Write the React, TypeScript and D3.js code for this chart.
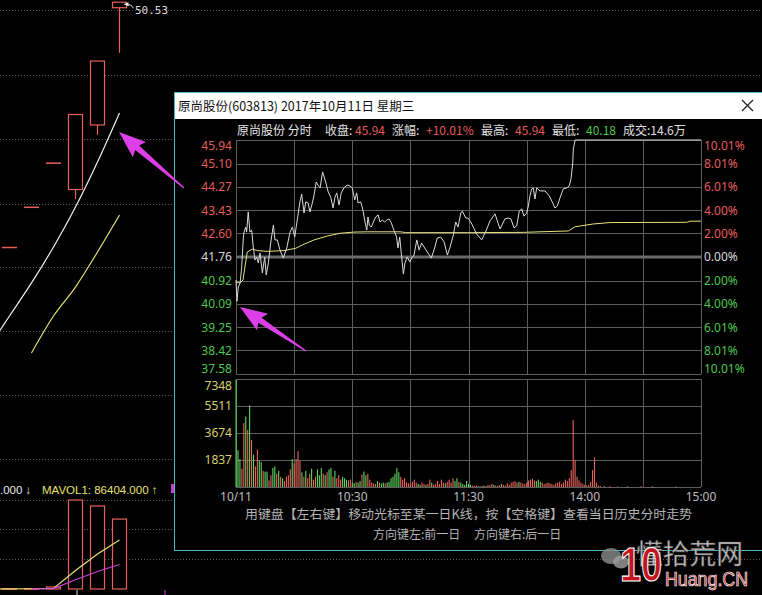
import React from "react";
import * as d3 from "d3";

const W = 762;
const H = 595;

// ---- daily K-line panel (behind the popup) ----
const dayIndex = [0, 1, 2, 3, 4, 5];
const dayOpen = [31.37, 34.51, 37.96, 35.9, 40.94, 50.1];
const dayHigh = [31.37, 34.51, 37.96, 41.76, 45.94, 50.53];
const dayLow = [31.37, 34.51, 37.96, 35.15, 40.18, 46.58];
const dayClose = [31.37, 34.51, 37.96, 41.76, 45.94, 50.53];
const ma5Index = [-1, 0, 1, 2, 3, 4, 5];
const ma5Values = [23.44, 26.02, 28.6, 31.41, 34.53, 38.05, 41.88];
const ma10Index = [1, 2, 3, 4, 5];
const ma10Values = [23.13, 26.02, 28.28, 31.02, 33.91];
const dayVolIndex = [-1, 0, 1, 2, 3, 4, 5];
const dayVolume = [300, 400, 500, 3500, 156500, 146000, 123000];
const mavol1Values = [300, 350, 400, 1100, 32400, 61500, 86404];
const mavol2Index = [1, 2, 3, 4, 5];
const mavol2Values = [350, 700, 16300, 30800, 43100];
const highLabel = "50.53";

// ---- intraday (分时) data, minutes 0..240 from 9:30 ----
const priceMinutes = [
  0, 0.5, 1.2, 2.1, 2.9, 3.8, 4.1, 5.0, 5.5, 6.3,
  7.2, 8.1, 8.9, 9.8, 10.7, 11.5, 12.4, 13.6, 14.8, 15.6,
  16.7, 17.9, 19.3, 20.1, 21.3, 22.7, 24.4, 26.2, 27.9, 29.1,
  30.3, 31.6, 32.9, 33.9, 35.1, 36.0, 37.2, 38.2, 39.4, 40.3,
  41.4, 42.3, 43.4, 44.7, 46.3, 47.6, 48.9, 50.1, 51.1, 52.0,
  53.2, 54.3, 55.7, 57.4, 58.8, 60.0, 61.3, 62.3, 63.0, 64.4,
  65.5, 66.6, 67.5, 68.1, 68.8, 69.8, 70.9, 72.1, 73.4, 74.3,
  75.5, 76.7, 77.8, 79.0, 80.2, 81.5, 82.9, 83.6, 84.5, 85.5,
  86.4, 87.2, 88.4, 89.7, 90.7, 91.9, 93.3, 94.5, 95.8, 97.4,
  99.1, 100.8, 102.2, 103.9, 105.7, 107.4, 109.1, 110.5, 112.2, 113.4,
  114.6, 116.0, 116.8, 118.6, 119.9, 121.7, 124.2, 126.8, 129.0, 131.1,
  133.7, 135.4, 136.3, 138.8, 140.5, 141.9, 143.5, 144.9, 146.2, 147.5,
  148.6, 150.0, 150.9, 151.7, 152.6, 153.4, 154.3, 155.2, 156.9, 159.5,
  161.7, 163.5, 164.6, 165.8, 167.2, 168.9, 170.7, 172.0, 172.9, 173.8,
  174.1, 175.0, 240,
];
const priceValues = [
  40.94, 40.18, 40.69, 40.83, 41.37, 42.47, 42.62, 42.83, 42.65, 43.37,
  42.65, 42.72, 42.12, 41.65, 41.76, 41.55, 41.9, 41.19, 41.76, 41.12,
  41.55, 42.26, 42.9, 42.37, 42.37, 42.01, 41.72, 42.08, 42.65, 42.83,
  42.47, 43.08, 43.69, 44.01, 43.33, 43.73, 43.69, 43.37, 43.69, 43.98,
  44.44, 44.33, 44.23, 44.8, 44.44, 44.08, 43.9, 43.51, 43.9, 44.05,
  43.62, 44.05, 44.23, 44.33, 44.3, 44.23, 43.8, 44.05, 43.69, 43.73,
  43.44, 43.01, 42.72, 43.19, 42.9, 42.83, 43.01, 43.19, 43.26, 43.01,
  43.08, 43.01, 43.08, 43.12, 42.97, 42.72, 42.47, 42.08, 42.47, 41.76,
  41.15, 41.55, 41.76, 41.58, 41.72, 41.83, 42.37, 42.01, 42.26, 42.08,
  41.9, 41.72, 42.01, 42.44, 42.47, 42.3, 41.83, 42.12, 42.55, 43.01,
  42.83, 43.33, 43.4, 43.15, 43.15, 42.94, 42.58, 42.37, 42.69, 43.05,
  43.3, 42.94, 42.76, 43.12, 43.15, 43.12, 42.8, 42.87, 43.4, 43.48,
  43.22, 43.33, 43.58, 43.94, 44.19, 44.23, 43.83, 44.23, 44.12, 44.12,
  43.94, 43.69, 43.51, 43.58, 43.87, 44.19, 44.23, 44.3, 44.55, 45.12,
  45.62, 45.94, 45.94,
];
const avgMinutes = [
  0, 2.1, 3.6, 5.8, 8.4, 11, 16.2, 24.8, 30.8, 34.2, 40.3, 47.1, 54, 60.9,
  67.8, 85, 87.6, 119.4, 148.3, 156.9, 171.5, 175, 184.4, 193, 232.6, 234.3, 240,
];
const avgValues = [
  40.87, 40.83, 40.94, 41.94, 42.04, 41.99, 41.96, 41.99, 42.07, 42.19, 42.37,
  42.51, 42.61, 42.65, 42.66, 42.66, 42.63, 42.63, 42.64, 42.66, 42.69, 42.84,
  42.94, 42.99, 43.0, 43.04, 43.04,
];
const minuteVolume = [
  7300, 2500, 1900, 1250, 4350, 4800, 3900, 5550, 3200, 2200,
  1400, 2550, 1800, 1700, 1100, 1050, 1050, 450, 800, 1300,
  1400, 900, 1100, 700, 600, 400, 700, 800, 1200, 1900,
  1600, 1900, 2450, 1800, 1000, 700, 1100, 600, 900, 1250,
  500, 700, 1200, 800, 1300, 900, 800, 1000, 1200, 1300,
  700, 1100, 600, 800, 500, 700, 600, 500, 450, 500,
  300, 250, 350, 300, 400, 850, 1050, 800, 900, 500,
  300, 250, 200, 400, 300, 250, 300, 250, 300, 350,
  600, 700, 900, 1300, 1000, 700, 500, 600, 300, 250,
  200, 350, 500, 300, 200, 150, 300, 200, 150, 200,
  500, 300, 150, 200, 400, 200, 500, 300, 250, 350,
  500, 300, 600, 400, 600, 350, 300, 200, 150, 400,
  200,
  150, 100, 80, 100, 60, 50, 80, 100, 60, 150,
  120, 200, 150, 100, 80, 120, 200, 150, 100, 250,
  150, 300, 350, 400, 300, 350, 300, 250, 200, 300,
  450, 500, 550, 450, 400, 500, 350, 300, 200, 250,
  300, 250, 200, 150, 250, 300, 350, 200, 300, 500,
  400, 600, 1150, 4560, 1850, 700, 450, 300, 200, 150,
  100, 150, 350, 1150, 2000, 300, 100, 60, 0, 80,
  0, 0, 60, 0, 0, 0, 40, 0, 0, 0,
  0, 50, 0, 0, 0, 0, 0, 0, 60, 0,
  0, 0, 0, 0, 50, 0, 0, 0, 0, 0,
  0, 0, 0, 0, 0, 0, 40, 0, 0, 0,
  0, 0, 0, 0, 0, 0, 0, 0, 0, 30,
];
// r = up minute, g = down minute
const minuteSide =
  "gggrrgrgrg" + "rrggrggrrg" + "grgrgrrrrg" + "rrrrgrgrrg" + "rrgggrgrgg" +
  "rgrrrgggrr" + "ggrggrggrr" + "rrrgrggrgg" + "gggggrrrrr" + "rrrrggrrgr" +
  "rgrrrrrrgr" + "rrrggrgggg" + "g" +
  "grrrgrrgrr" + "rrgrrrgrrr" + "rrrrrgrrrr" + "rrrrgggrrr" + "rrrrrrrrrr" +
  "rrrrrrrrrr" + "rrrrrrrrrr" + "rrrrrrrrrr" + "rrrrrrrrrr" + "rrrrrrrrrr" +
  "rrrrrrrrrr" + "rrrrrrrrrr";

const prevClose = 41.76;
const priceTicks = [45.94, 45.1, 44.27, 43.43, 42.6, 41.76, 40.92, 40.09, 39.25, 38.42, 37.58];
const pctTicks = ["10.01%", "8.01%", "6.01%", "4.00%", "2.00%", "0.00%", "2.00%", "4.00%", "6.01%", "8.01%", "10.01%"];
const volTicks = [7348, 5511, 3674, 1837];
const timeTickMinutes = [0, 60, 120, 180, 240];
const timeTickLabels = ["10/11", "10:30", "11:30", "14:00", "15:00"];
const gridMinutes = [0, 30, 60, 90, 120, 150, 180, 210, 240];

const CJK = '"Noto Sans CJK SC", "Noto Sans", sans-serif';
const NUM = '"Noto Sans", "Liberation Sans", sans-serif';
const RED = "#e35d5d";
const GREEN = "#4fc64f";
const WHITE = "#d8d8d8";

function arrowPath(x1: number, y1: number, x2: number, y2: number, headLen: number, headW: number, shaftW: number) {
  const dx = x2 - x1, dy = y2 - y1, L = Math.hypot(dx, dy);
  const ux = dx / L, uy = dy / L, nx = -uy, ny = ux;
  const bx = x2 - ux * headLen, by = y2 - uy * headLen;
  const pts: [number, number][] = [
    [x1 + nx * 0.6, y1 + ny * 0.6],
    [bx + (nx * shaftW) / 2, by + (ny * shaftW) / 2],
    [bx + (nx * headW) / 2 - ux * 3, by + (ny * headW) / 2 - uy * 3],
    [x2, y2],
    [bx - (nx * headW) / 2 - ux * 3, by - (ny * headW) / 2 - uy * 3],
    [bx - (nx * shaftW) / 2, by - (ny * shaftW) / 2],
    [x1 - nx * 0.6, y1 - ny * 0.6],
  ];
  return "M" + pts.map((p) => p[0].toFixed(1) + "," + p[1].toFixed(1)).join("L") + "Z";
}

export default function App() {
  // daily scales
  const xDay = d3.scaleLinear().domain([0, 5]).range([9.5, 119.5]);
  const yDay = d3.scaleLinear().domain([45.94, 50.53]).range([61, 2.25]);
  const yDayVol = d3.scaleLinear().domain([0, 146000]).range([589, 506]);

  // intraday scales
  const xMin = d3.scaleLinear().domain([0, 240]).range([236, 701]);
  const yPx = d3.scaleLinear().domain([37.58, 45.94]).range([374, 140]);
  const yVol = d3.scaleLinear().domain([0, 7348]).range([487, 379]);

  const ma5Line = d3.line<number>().x((_, i) => xDay(ma5Index[i])).y((v) => yDay(v)).curve(d3.curveMonotoneX)(ma5Values) || "";
  const ma10Line = d3.line<number>().x((_, i) => xDay(ma10Index[i])).y((v) => yDay(v)).curve(d3.curveMonotoneX)(ma10Values) || "";
  const mavol1Line = d3.line<number>().x((_, i) => xDay(dayVolIndex[i])).y((v) => yDayVol(v))(mavol1Values) || "";
  const mavol2Line = d3.line<number>().x((_, i) => xDay(mavol2Index[i])).y((v) => yDayVol(v))(mavol2Values) || "";

  const priceLine = d3.line<number>().x((_, i) => xMin(priceMinutes[i])).y((v) => yPx(v))(priceValues) || "";
  const avgLine = d3.line<number>().x((_, i) => xMin(avgMinutes[i])).y((v) => yPx(v))(avgValues) || "";

  const bgGridY = [10, 75, 139, 204, 267, 331, 395, 459, 500, 529, 559];

  const priceColor = (v: number) => (Math.abs(v - prevClose) < 0.001 ? WHITE : v > prevClose ? RED : GREEN);

  return (
    <svg width={W} height={H} viewBox={`0 0 ${W} ${H}`} style={{ position: "absolute", left: 0, top: 0, display: "block", background: "#000" }}>
      <rect x={0} y={0} width={W} height={H} fill="#000" />

      {/* background daily chart */}
      {bgGridY.map((y) => (
        <line key={"bg" + y} x1={0} x2={W} y1={y + 0.5} y2={y + 0.5} stroke="#5a5a5a" strokeDasharray="1 2" />
      ))}
      {dayIndex.map((k, i) => {
        const x = xDay(k);
        const o = dayOpen[i], c = dayClose[i], h = dayHigh[i], l = dayLow[i];
        if (h === l) {
          return <line key={"k" + k} x1={x - 7.5} x2={x + 7.5} y1={yDay(c)} y2={yDay(c)} stroke="#e8605c" strokeWidth={1.5} />;
        }
        const top = yDay(Math.max(o, c));
        const bot = yDay(Math.min(o, c));
        return (
          <g key={"k" + k} stroke="#e8605c" strokeWidth={1.2}>
            <line x1={x} x2={x} y1={yDay(h)} y2={top} />
            <line x1={x} x2={x} y1={bot} y2={yDay(l)} />
            <rect x={x - 7} y={top} width={14} height={bot - top} fill="#000" />
          </g>
        );
      })}
      <path d={ma5Line} fill="none" stroke="#f0f0f0" strokeWidth={1.2} />
      <path d={ma10Line} fill="none" stroke="#e6e070" strokeWidth={1.2} />
      {/* high marker */}
      <path d={`M${xDay(5) + 4},${yDay(50.53) + 2} l5,-2 l0,4 z`} fill="#eee" />
      <path d={`M${xDay(5) + 8},${yDay(50.53) + 3} q3,-2 6,3`} fill="none" stroke="#ddd" strokeWidth={1} />
      <text x={135} y={14} fontFamily='"DejaVu Sans Mono", monospace' fontSize={11} fill="#dcdcdc">{highLabel}</text>

      {/* background volume panel */}
      <text x={0} y={494} fontFamily='"Liberation Sans", Arial, sans-serif' fontSize={11.5} fill="#e8e8e8">.000 ↓</text>
      <text x={42} y={494} fontFamily='"Liberation Sans", Arial, sans-serif' fontSize={11.5} fill="#e6e070">MAVOL1: 86404.000 ↑</text>
      <rect x={171} y={484} width={3} height={9} fill="#c040d0" />
      {dayVolIndex.map((k, i) => {
        if (k < 0) return null;
        const x = xDay(k);
        const y = yDayVol(dayVolume[i]);
        return <rect key={"v" + k} x={x - 7} y={y} width={14} height={Math.max(0.5, 589 - y)} fill="#000" stroke="#e8605c" strokeWidth={1.2} />;
      })}
      <path d={mavol1Line} fill="none" stroke="#e6e070" strokeWidth={1.2} />
      <path d={mavol2Line} fill="none" stroke="#c840d8" strokeWidth={1.2} />
      <line x1={77} x2={77} y1={590} y2={595} stroke="#ddd" />
      <line x1={165} x2={165} y1={590} y2={595} stroke="#c840d8" />

      {/* popup window */}
      <rect x={174.5} y={92.5} width={W - 174} height={458} fill="#000" stroke="#4fb6c0" strokeWidth={1} />
      <rect x={175} y={93} width={W - 175} height={26} fill="#ffffff" />
      <text x={178} y={111} fontFamily={CJK} fontSize={12.5} fill="#111">原尚股份(603813) 2017年10月11日 星期三</text>
      <g stroke="#222" strokeWidth={1.3}>
        <line x1={742} y1={100} x2={753} y2={111} />
        <line x1={753} y1={100} x2={742} y2={111} />
      </g>

      {/* info line */}
      <g fontFamily={CJK} fontSize={12} >
        <text x={237} y={135} fill="#e8e8e8">原尚股份 分时</text>
        <text x={325} y={135} fill="#e0e0e0">收盘:</text>
        <text x={355} y={135} fill={RED}>45.94</text>
        <text x={392} y={135} fill="#e0e0e0">涨幅:</text>
        <text x={426} y={135} fill={RED}>+10.01%</text>
        <text x={481} y={135} fill="#e0e0e0">最高:</text>
        <text x={515} y={135} fill={RED}>45.94</text>
        <text x={552} y={135} fill="#e0e0e0">最低:</text>
        <text x={586} y={135} fill={GREEN}>40.18</text>
        <text x={623} y={135} fill="#e0e0e0">成交:14.6万</text>
      </g>

      {/* intraday grid */}
      <g stroke="#5e5e5e" strokeWidth={1}>
        {priceTicks.map((v) =>
          Math.abs(v - prevClose) < 0.001 ? null : (
            <line key={"hp" + v} x1={xMin(0)} x2={xMin(240)} y1={Math.round(yPx(v)) + 0.5} y2={Math.round(yPx(v)) + 0.5} />
          )
        )}
        {volTicks.map((v) => (
          <line key={"hv" + v} x1={xMin(0)} x2={xMin(240)} y1={Math.round(yVol(v)) + 0.5} y2={Math.round(yVol(v)) + 0.5} />
        ))}
        <line x1={xMin(0)} x2={xMin(240)} y1={yVol(0) + 0.5} y2={yVol(0) + 0.5} />
        {gridMinutes.map((m) => (
          <g key={"gm" + m}>
            <line x1={Math.round(xMin(m)) + 0.5} x2={Math.round(xMin(m)) + 0.5} y1={yPx(45.94)} y2={yPx(37.58)} />
            <line x1={Math.round(xMin(m)) + 0.5} x2={Math.round(xMin(m)) + 0.5} y1={yVol(7348)} y2={yVol(0)} />
          </g>
        ))}
      </g>
      <line x1={xMin(0)} x2={xMin(240)} y1={yPx(prevClose)} y2={yPx(prevClose)} stroke="#6a6a6a" strokeWidth={3} />

      {/* price axis labels */}
      <g fontFamily={NUM} fontSize={12}>
        {priceTicks.map((v) => (
          <text key={"pl" + v} x={232} y={Math.min(Math.max(yPx(v), 146), 369)} dy="0.36em" textAnchor="end" fill={priceColor(v)}>
            {v.toFixed(2)}
          </text>
        ))}
        {priceTicks.map((v, i) => (
          <text key={"pr" + i} x={704} y={Math.min(Math.max(yPx(v), 146), 369)} dy="0.36em" fill={priceColor(v)}>
            {pctTicks[i]}
          </text>
        ))}
        {volTicks.map((v) => (
          <text key={"vl" + v} x={232} y={Math.max(yVol(v), 386)} dy="0.36em" textAnchor="end" fill="#d9cf6a">
            {v}
          </text>
        ))}
        {timeTickMinutes.map((m, i) => (
          <text key={"tl" + m} x={xMin(m)} y={501} textAnchor="middle" fill="#bdbdbd">
            {timeTickLabels[i]}
          </text>
        ))}
      </g>

      {/* volume bars */}
      {minuteVolume.map((v, i) =>
        v > 0 ? (
          <rect
            key={"mv" + i}
            x={xMin(i) - 0.5}
            y={yVol(v)}
            width={1.1}
            height={yVol(0) - yVol(v)}
            fill={minuteSide[i] === "r" ? "#e8625e" : "#5fd45f"}
          />
        ) : null
      )}

      {/* price and average lines */}
      <path d={avgLine} fill="none" stroke="#e8e27a" strokeWidth={1} />
      <path d={priceLine} fill="none" stroke="#dadada" strokeWidth={1} />

      {/* hints */}
      <text x={245} y={519} fontFamily={CJK} fontSize={12.5} fill="#b4b4b4" textLength={447} lengthAdjust="spacingAndGlyphs">
        用键盘【左右键】移动光标至某一日K线，按【空格键】查看当日历史分时走势
      </text>
      <text x={373} y={539} fontFamily={CJK} fontSize={12} fill="#b4b4b4">方向键左:前一日</text>
      <text x={474} y={539} fontFamily={CJK} fontSize={12} fill="#b4b4b4">方向键右:后一日</text>

      {/* watermark */}
      <g>
        <ellipse cx={611} cy={556} rx={10} ry={8} fill="#8c8c8c" opacity={0.8} />
        <ellipse cx={621} cy={562} rx={8} ry={6.5} fill="#a0a0a0" opacity={0.8} />
        <text x={636} y={564} fontFamily={CJK} fontSize={27} fill="#c8c8c8" stroke="#444" strokeWidth={0.6} textLength={107} lengthAdjust="spacingAndGlyphs">懂拾荒网</text>
        <text x={620} y={581} fontFamily='"Liberation Sans", Arial, sans-serif' fontWeight="bold" fontSize={48} fill="#c3161e" stroke="#fff" strokeWidth={1.2} textLength={42} lengthAdjust="spacingAndGlyphs">10</text>
        <text x={665} y={586} fontFamily='"Liberation Sans", Arial, sans-serif' fontSize={20} fill="#c3161e" stroke="#f4f4f4" strokeWidth={0.7} textLength={83} lengthAdjust="spacingAndGlyphs">Huang.CN</text>
      </g>

      {/* pointer arrows */}
      <path d={arrowPath(184, 188, 119, 132, 24, 20, 6)} fill="#dc3fe8" />
      <path d={arrowPath(306, 351, 240, 307, 24, 20, 6)} fill="#dc3fe8" />
    </svg>
  );
}
